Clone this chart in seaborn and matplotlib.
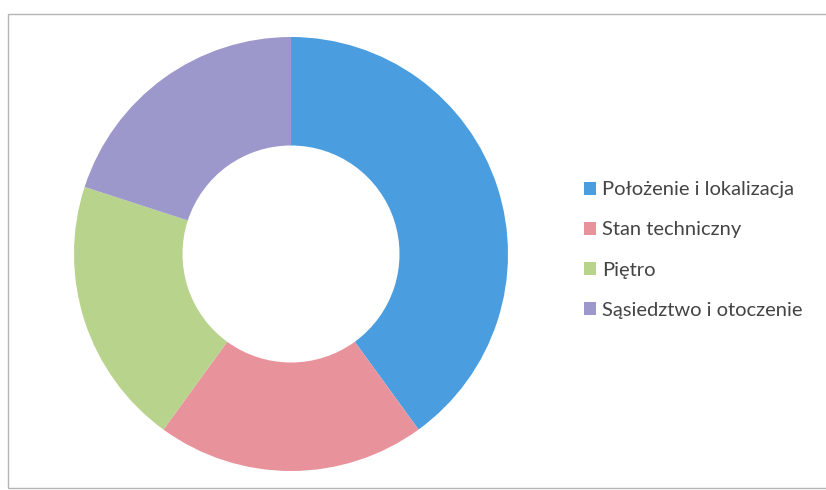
# wykres pierścieniowy - czynniki wyboru mieszkania
import seaborn as sns
import matplotlib.pyplot as plt
from matplotlib.patches import Rectangle, Patch

kategorie = ["Położenie i lokalizacja", "Stan techniczny", "Piętro", "Sąsiedztwo i otoczenie"]
udzialy = [40, 20, 20, 20]
kolory = ["#4a9ee0", "#e8939c", "#b7d38c", "#9d98cb"]

sns.set_theme(style="white")
plt.rcParams['font.family'] = ['Lato', 'DejaVu Sans']

fig = plt.figure(figsize=(8.26, 4.9), dpi=100)
fig.patch.set_facecolor("white")

# ramka wykresu
fig.add_artist(Rectangle((8 / 826, 2 / 490), 1.0, 474 / 490, transform=fig.transFigure,
                         fill=False, edgecolor="#b5b5b5", linewidth=1.0))

ax = fig.add_axes([74 / 826, 19 / 490, 434 / 826, 434 / 490])
ax.pie(udzialy, colors=sns.color_palette(kolory), startangle=90, counterclock=False,
       radius=1.0, wedgeprops=dict(width=0.5, linewidth=0))
ax.set_xlim(-1, 1)
ax.set_ylim(-1, 1)
ax.set_aspect("equal")
ax.axis("off")

uchwyty = [Patch(facecolor=c, edgecolor="none") for c in kolory]
fig.legend(uchwyty, kategorie, loc="center left", bbox_to_anchor=(566 / 826, 240 / 490),
           frameon=False, fontsize=14.5, labelcolor="#444444", handlelength=0.6,
           handleheight=0.6, handletextpad=0.3, labelspacing=1.15)

fig.savefig("out.png", dpi=100, facecolor="white")
